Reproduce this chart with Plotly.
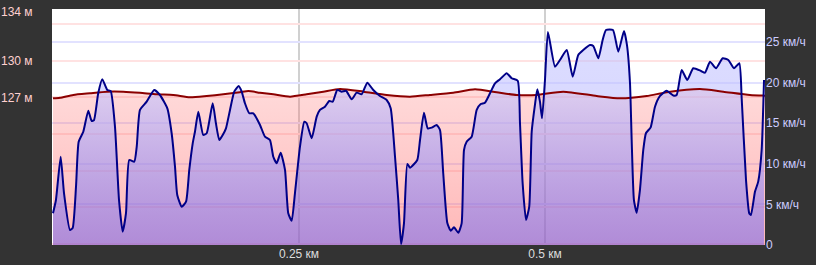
import plotly.graph_objects as go

# ---------------- data ----------------
speed_km = [
    0.0000, 0.0030, 0.0078, 0.0112, 0.0173, 0.0200, 0.0234, 0.0261, 0.0308, 0.0359,
    0.0393, 0.0417, 0.0460, 0.0501, 0.0552, 0.0586, 0.0630, 0.0671, 0.0708, 0.0742,
    0.0775, 0.0826, 0.0851, 0.0884, 0.0952, 0.1029, 0.1087, 0.1162, 0.1206, 0.1240,
    0.1263, 0.1308, 0.1352, 0.1385, 0.1420, 0.1443, 0.1477, 0.1527, 0.1562, 0.1623,
    0.1656, 0.1690, 0.1725, 0.1758, 0.1799, 0.1842, 0.1887, 0.1918, 0.1951, 0.1995,
    0.2036, 0.2104, 0.2154, 0.2205, 0.2239, 0.2273, 0.2314, 0.2358, 0.2391, 0.2426,
    0.2459, 0.2510, 0.2554, 0.2578, 0.2629, 0.2680, 0.2713, 0.2764, 0.2808, 0.2843,
    0.2889, 0.2934, 0.2978, 0.3036, 0.3086, 0.3137, 0.3194, 0.3255, 0.3323, 0.3391,
    0.3432, 0.3476, 0.3509, 0.3537, 0.3567, 0.3601, 0.3628, 0.3702, 0.3730, 0.3770,
    0.3808, 0.3849, 0.3899, 0.3933, 0.3966, 0.4007, 0.4042, 0.4075, 0.4119, 0.4153,
    0.4177, 0.4204, 0.4255, 0.4306, 0.4347, 0.4390, 0.4441, 0.4492, 0.4543, 0.4611,
    0.4662, 0.4723, 0.4746, 0.4773, 0.4807, 0.4840, 0.4865, 0.4898, 0.4922, 0.4949,
    0.4970, 0.5000, 0.5030, 0.5102, 0.5152, 0.5221, 0.5282, 0.5338, 0.5389, 0.5457,
    0.5491, 0.5542, 0.5586, 0.5620, 0.5691, 0.5745, 0.5803, 0.5833, 0.5864, 0.5881,
    0.5904, 0.5932, 0.5965, 0.5999, 0.6026, 0.6074, 0.6118, 0.6169, 0.6237, 0.6304,
    0.6338, 0.6389, 0.6446, 0.6507, 0.6585, 0.6626, 0.6677, 0.6738, 0.6806, 0.6863,
    0.6921, 0.6975, 0.6999, 0.7043, 0.7076, 0.7093, 0.7134, 0.7167, 0.7202, 0.7226,
]
speed_kmh = [
    3.90, 5.54, 10.88, 6.40, 1.85, 2.09, 7.18, 12.72, 13.95, 16.54,
    15.27, 15.39, 18.72, 20.41, 19.09, 18.97, 14.57, 5.54, 1.64, 3.94,
    10.47, 10.26, 12.11, 16.63, 17.65, 19.09, 18.47, 16.83, 13.76, 9.64,
    6.16, 4.72, 5.33, 9.24, 12.52, 13.95, 16.42, 13.55, 13.76, 17.45,
    14.99, 12.93, 13.55, 14.37, 16.63, 18.88, 19.58, 18.88, 17.45, 16.22,
    16.22, 14.78, 13.34, 12.93, 10.87, 10.06, 11.37, 9.24, 3.90, 2.99,
    6.37, 12.11, 15.18, 14.99, 13.14, 15.80, 16.63, 17.03, 17.73, 17.65,
    19.09, 18.88, 19.00, 17.94, 18.76, 18.56, 19.99, 19.09, 18.35, 17.86,
    16.83, 10.87, 5.54, 0.12, 2.67, 9.98, 9.52, 10.47, 12.93, 16.29,
    14.37, 14.45, 14.78, 14.16, 8.83, 2.75, 1.76, 2.18, 1.51, 2.67,
    11.70, 12.72, 13.34, 16.63, 17.36, 17.52, 18.68, 19.91, 20.41, 21.15,
    20.53, 20.23, 14.99, 7.60, 3.08, 4.72, 13.95, 17.24, 19.17, 17.65,
    15.60, 20.32, 26.23, 21.96, 22.78, 24.01, 20.73, 23.40, 24.01, 24.63,
    24.51, 22.99, 25.25, 26.48, 26.48, 23.81, 26.35, 24.63, 19.91, 12.93,
    5.54, 3.98, 6.77, 11.70, 13.76, 14.49, 17.03, 18.35, 19.00, 18.41,
    18.47, 21.55, 20.32, 21.76, 21.43, 21.22, 22.57, 21.76, 22.99, 22.78,
    21.76, 22.38, 18.07, 8.00, 3.90, 3.69, 6.56, 7.80, 11.70, 20.32,
]

elev_km = [
    0.0000, 0.0071, 0.0206, 0.0376, 0.0546, 0.0714, 0.0884, 0.1054, 0.1223, 0.1392,
    0.1562, 0.1731, 0.1900, 0.1985, 0.2104, 0.2239, 0.2409, 0.2578, 0.2747, 0.2917,
    0.3154, 0.3391, 0.3628, 0.3831, 0.4068, 0.4289, 0.4509, 0.4712, 0.4916, 0.5186,
    0.5526, 0.5762, 0.6034, 0.6237, 0.6575, 0.6812, 0.7083, 0.7236,
]
elevation_m = [
    126.93, 126.98, 127.21, 127.35, 127.48, 127.48, 127.39, 127.26, 127.21, 127.02,
    127.12, 127.26, 127.43, 127.53, 127.39, 127.26, 127.07, 127.26, 127.48, 127.70,
    127.48, 127.21, 127.07, 127.21, 127.39, 127.67, 127.43, 127.21, 127.21, 127.48,
    127.12, 126.93, 127.12, 127.43, 127.70, 127.48, 127.21, 127.15,
]

x_tick_vals = [0.25, 0.5]
x_tick_text = ["0.25 км", "0.5 км"]
elev_tick_vals = [127, 130, 134]
elev_tick_text = ["127 м", "130 м", "134 м"]
speed_tick_vals = [0, 5, 10, 15, 20, 25]
speed_tick_text = ["0", "5 км/ч", "10 км/ч", "15 км/ч", "20 км/ч", "25 км/ч"]

# ---------------- style ----------------
X_RANGE = [-0.001, 0.7236]
ELEV_RANGE = [114.88, 134.27]
SPEED_RANGE = [0, 29.06]
FONT = "Liberation Sans, Arial, sans-serif"
BG = "#333333"

fig = go.Figure()

# elevation fill (pink)
fig.add_trace(go.Scatter(
    x=elev_km, y=elevation_m, yaxis="y", mode="none", fill="tozeroy",
    line=dict(shape="spline", smoothing=0.6),
    fillgradient=dict(type="vertical", start=ELEV_RANGE[0], stop=127.7,
                      colorscale=[[0, "rgba(255,100,100,0.46)"], [1, "rgba(255,100,100,0.24)"]]),
    hoverinfo="skip", showlegend=False,
))
# speed fill (lavender / purple)
fig.add_trace(go.Scatter(
    x=speed_km, y=speed_kmh, yaxis="y2", mode="none", fill="tozeroy",
    line=dict(shape="spline", smoothing=0.5),
    fillgradient=dict(type="vertical", start=0, stop=SPEED_RANGE[1],
                      colorscale=[[0, "rgba(77,83,255,0.44)"], [0.62, "rgba(190,190,255,0.58)"],
                                  [1, "rgba(195,195,255,0.55)"]]),
    hoverinfo="skip", showlegend=False,
))
# elevation line
fig.add_trace(go.Scatter(
    x=elev_km, y=elevation_m, yaxis="y3", mode="lines",
    line=dict(color="#8b0000", width=2, shape="spline", smoothing=0.6),
    hoverinfo="skip", showlegend=False,
))
# speed line
fig.add_trace(go.Scatter(
    x=speed_km, y=speed_kmh, yaxis="y4", mode="lines",
    line=dict(color="#000088", width=2, shape="spline", smoothing=0.5),
    hoverinfo="skip", showlegend=False,
))

fig.update_layout(
    width=816, height=265,
    margin=dict(l=52, r=51, t=9, b=20, autoexpand=False),
    paper_bgcolor=BG, plot_bgcolor="white",
    font=dict(family=FONT, size=12),
    hovermode=False,
    xaxis=dict(range=X_RANGE, tickvals=x_tick_vals, ticktext=x_tick_text,
               showgrid=True, gridcolor="rgba(170,170,170,0.55)", gridwidth=2,
               zeroline=False, showline=False, ticks="", automargin=False,
               tickfont=dict(color="#dddddd", size=12, family=FONT), fixedrange=True),
    yaxis=dict(range=ELEV_RANGE, tickvals=elev_tick_vals, ticktext=elev_tick_text,
               showgrid=False, zeroline=False, ticks="outside", ticklen=16,
               tickcolor="rgba(0,0,0,0)", automargin=False,
               tickfont=dict(color="#ffd0d0", size=12, family=FONT)),
    yaxis2=dict(range=SPEED_RANGE, overlaying="y", side="right",
                tickvals=speed_tick_vals, ticktext=speed_tick_text, automargin=False,
                showgrid=True, gridcolor="#e2e2ff", gridwidth=2, zeroline=False,
                tickfont=dict(color="#ccccff", size=12, family=FONT)),
    yaxis3=dict(range=ELEV_RANGE, overlaying="y", showticklabels=False, automargin=False,
                tick0=127, dtick=3, showgrid=True, gridcolor="#ffe2e2", gridwidth=2,
                zeroline=False, ticks=""),
    yaxis4=dict(range=SPEED_RANGE, overlaying="y", side="right", showticklabels=False,
                automargin=False, showgrid=False, zeroline=False, ticks=""),
)

fig.write_html("out.html")
